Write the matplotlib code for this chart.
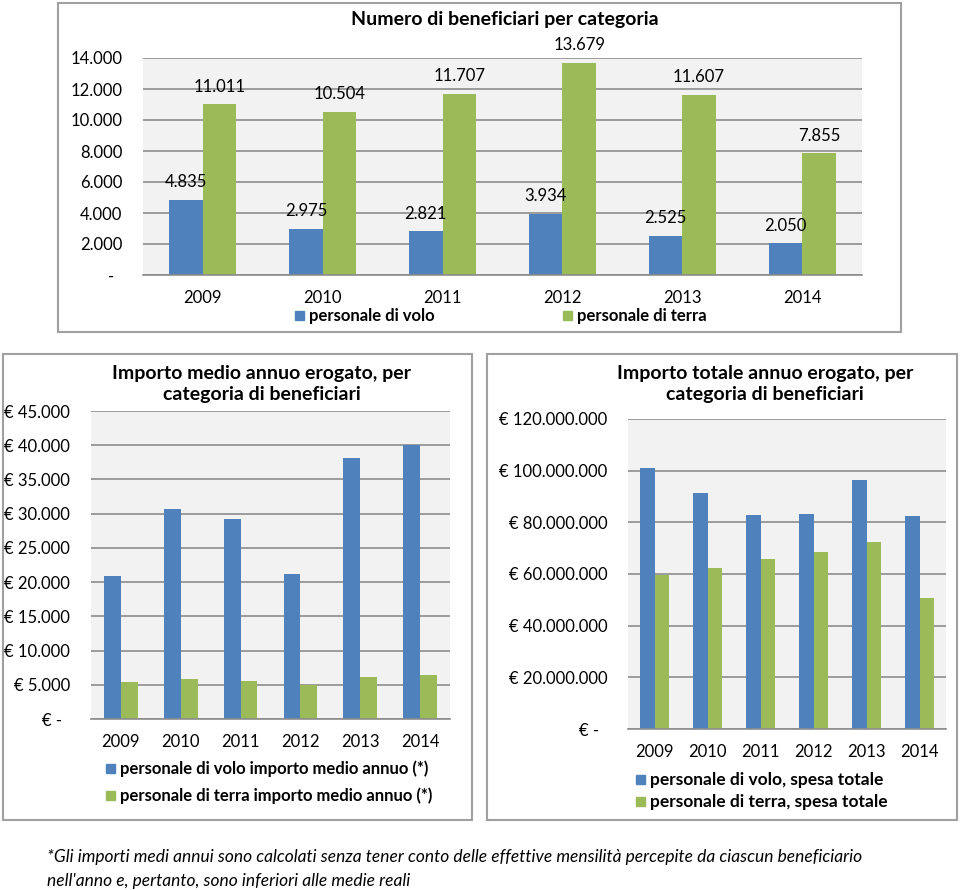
import matplotlib
matplotlib.use("Agg")
import matplotlib.pyplot as plt
from matplotlib.patches import Rectangle
from matplotlib.ticker import FuncFormatter
import numpy as np

plt.rcParams['font.family'] = ['Lato', 'DejaVu Sans']

years = ['2009', '2010', '2011', '2012', '2013', '2014']

# numero di beneficiari
benef_volo = [4835, 2975, 2821, 3934, 2525, 2050]
benef_terra = [11011, 10504, 11707, 13679, 11607, 7855]

# importo medio annuo (euro)
medio_volo = [20870, 30690, 29280, 21160, 38080, 40030]
medio_terra = [5400, 5890, 5590, 5010, 6180, 6420]

# importo totale annuo (euro)
totale_volo = [100.9e6, 91.5e6, 82.7e6, 83.4e6, 96.3e6, 82.3e6]
totale_terra = [59.7e6, 62.3e6, 66.0e6, 68.6e6, 72.2e6, 50.7e6]

BLUE = '#4f81bd'
GREEN = '#9bbb59'
W, H = 960, 890

fig = plt.figure(figsize=(9.6, 8.9), dpi=100)


def rect(x0, y0, x1, y1):
    return [x0 / W, 1 - y1 / H, (x1 - x0) / W, (y1 - y0) / H]


def fx(x):
    return x / W


def fy(y):
    return 1 - y / H


def box(x0, y0, x1, y1):
    fig.patches.append(Rectangle((fx(x0), fy(y1)), (x1 - x0) / W, (y1 - y0) / H,
                                 transform=fig.transFigure, fill=False,
                                 edgecolor='#a0a0a0', linewidth=1.5))


def legend_item(x, y, color, label, size):
    fig.patches.append(Rectangle((fx(x), fy(y + 9)), 9 / W, 9 / H,
                                 transform=fig.transFigure, color=color))
    fig.text(fx(x + 14), fy(y + 4.5), label, fontsize=size, va='center',
             ha='left', fontweight='bold')


def dots(v):
    return f'{int(round(v)):,}'.replace(',', '.')


def setup(ax, ymax, step, fmt, tick_size):
    x = np.arange(len(years))
    ax.set_facecolor('#f2f2f2')
    ax.set_xlim(-0.5, len(years) - 0.5)
    ax.set_ylim(0, ymax)
    ax.set_yticks(np.arange(0, ymax + 1, step))
    ax.yaxis.set_major_formatter(FuncFormatter(fmt))
    ax.set_xticks(x)
    ax.set_xticklabels(years)
    ax.grid(axis='y', color='#8c8c8c', linewidth=1.2)
    ax.set_axisbelow(True)
    for s in ['top', 'right', 'left']:
        ax.spines[s].set_visible(False)
    ax.spines['bottom'].set_color('#8c8c8c')
    ax.spines['bottom'].set_linewidth(1.2)
    ax.tick_params(length=0, labelsize=tick_size)
    ax.tick_params(axis='y', pad=15)
    ax.tick_params(axis='x', pad=11)
    return x


bw = 0.28

# ---- grafico in alto ----
box(58, 3, 901, 332)
ax1 = fig.add_axes(rect(143, 58, 862, 275))
x = setup(ax1, 14000, 2000, lambda v, p: dots(v) if v > 0 else '-  ', 12)
b1 = ax1.bar(x - bw / 2, benef_volo, bw, color=BLUE)
b2 = ax1.bar(x + bw / 2, benef_terra, bw, color=GREEN)
for bars in (b1, b2):
    ax1.bar_label(bars, labels=[dots(v) for v in bars.datavalues], padding=7,
                  fontsize=12, clip_on=False)
fig.text(fx(505), fy(20), 'Numero di beneficiari per categoria', fontsize=14,
         fontweight='bold', ha='center', va='center')
legend_item(295, 311, BLUE, 'personale di volo', 12)
legend_item(563, 311, GREEN, 'personale di terra', 12)

# ---- in basso a sinistra ----
box(3, 354, 472, 820)
ax2 = fig.add_axes(rect(91, 411, 450, 719))
x = setup(ax2, 45000, 5000,
          lambda v, p: '€ ' + dots(v) if v > 0 else '€ -  ', 12)
ax2.bar(x - bw / 2, medio_volo, bw, color=BLUE)
ax2.bar(x + bw / 2, medio_terra, bw, color=GREEN)
fig.text(fx(262), fy(384), 'Importo medio annuo erogato, per\ncategoria di beneficiari',
         fontsize=14, fontweight='bold', ha='center', va='center',
         linespacing=1.3)
legend_item(106, 764, BLUE, 'personale di volo importo medio annuo (*)', 12)
legend_item(106, 791, GREEN, 'personale di terra importo medio annuo (*)', 12)

# ---- in basso a destra ----
box(487, 354, 957, 820)
ax3 = fig.add_axes(rect(628, 419, 946, 729))
x = setup(ax3, 120e6, 20e6,
          lambda v, p: '€ ' + dots(v) if v > 0 else '€ -  ', 12)
ax3.bar(x - bw / 2, totale_volo, bw, color=BLUE)
ax3.bar(x + bw / 2, totale_terra, bw, color=GREEN)
fig.text(fx(765), fy(384), 'Importo totale annuo erogato, per\ncategoria di beneficiari',
         fontsize=14, fontweight='bold', ha='center', va='center',
         linespacing=1.3)
legend_item(636, 775, BLUE, 'personale di volo, spesa totale', 12.5)
legend_item(636, 797, GREEN, 'personale di terra, spesa totale', 12.5)

# ---- nota ----
fig.text(fx(47), fy(857),
         "*Gli importi medi annui sono calcolati senza tener conto delle effettive "
         "mensilità percepite da ciascun beneficiario", fontsize=12.5,
         style='italic', ha='left', va='center')
fig.text(fx(47), fy(881), "nell'anno e, pertanto, sono inferiori alle medie reali",
         fontsize=12.5, style='italic', ha='left', va='center')

fig.savefig('out.png', dpi=100)
